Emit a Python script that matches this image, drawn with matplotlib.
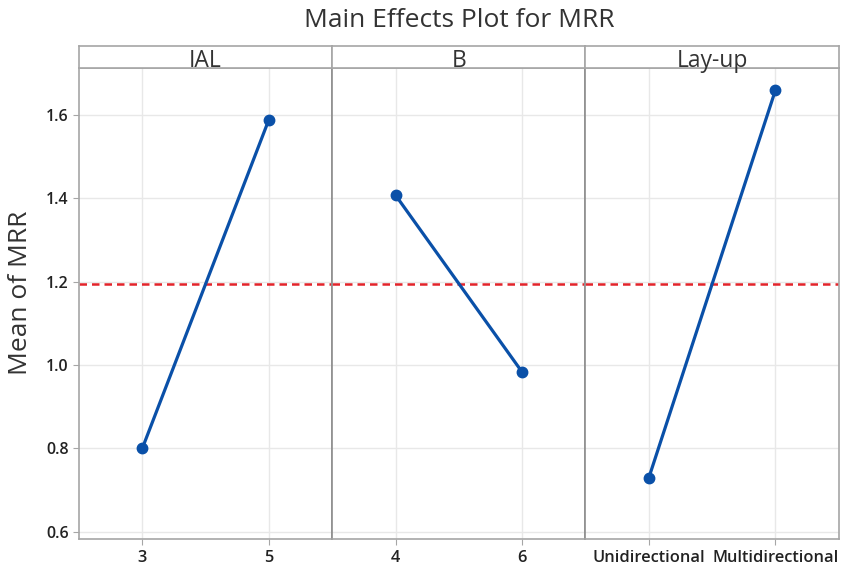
import matplotlib
matplotlib.use("Agg")
from matplotlib import pyplot as plt

plt.rcParams['font.family'] = ['Open Sans', 'DejaVu Sans']

# 数据
factors = ['IAL', 'B', 'Lay-up']
levels = [['3', '5'], ['4', '6'], ['Unidirectional', 'Multidirectional']]
means = [[0.80, 1.588], [1.407, 0.983], [0.729, 1.658]]
grand_mean = 1.194
y_ticks = [0.6, 0.8, 1.0, 1.2, 1.4, 1.6]

line_color = '#0a50a8'
frame_color = '#a6a6a6'

fig = plt.figure(figsize=(8.51, 5.69), dpi=100)
left, right = 0.0928, 0.9855
bottom, top = 0.052, 0.880
strip_h = 0.040
w = (right - left) / 3

for i in range(3):
    ax = fig.add_axes([left + i * w, bottom, w, top - bottom])
    x = list(range(len(levels[i])))
    ax.plot(x, means[i], color=line_color, lw=2.3, marker='o', ms=7.5, zorder=3)
    ax.axhline(grand_mean, color='#e3242b', lw=1.8, ls=(0, (3, 2)), zorder=2)
    ax.set_xlim(-0.5, len(levels[i]) - 0.5)
    ax.set_ylim(0.582, 1.711)
    ax.set_xticks(x)
    ax.set_xticklabels(levels[i], fontsize=11.8, fontweight='semibold', color='#222222')
    ax.set_yticks(y_ticks)
    ax.grid(True, color='#e8e8e8', lw=1)
    ax.set_axisbelow(True)
    ax.tick_params(axis='both', colors=frame_color, labelcolor='#222222', length=4)
    for s in ax.spines.values():
        s.set_color(frame_color)
        s.set_linewidth(1.2)
    if i == 0:
        ax.set_yticklabels([f'{v:.1f}' for v in y_ticks], fontsize=11.5, fontweight='semibold')
        ax.set_ylabel('Mean of MRR', fontsize=19, color='#333333')
        ax.yaxis.set_label_coords(-0.182, 0.524)
    else:
        ax.tick_params(axis='y', left=False, labelleft=False)
        ax.spines['left'].set_color('#8c8c8c')

    # 面板标题条
    sax = fig.add_axes([left + i * w, top, w, strip_h])
    sax.set_xticks([])
    sax.set_yticks([])
    for s in sax.spines.values():
        s.set_color(frame_color)
        s.set_linewidth(1.2)
    sax.text(0.5, 0.07, factors[i], ha='center', va='baseline', fontsize=16.5, color='#333333',
             transform=sax.transAxes)

fig.text(0.54, 0.9525, 'Main Effects Plot for MRR', ha='center', va='baseline', fontsize=19, color='#333333')

plt.savefig('out.png', dpi=100)
